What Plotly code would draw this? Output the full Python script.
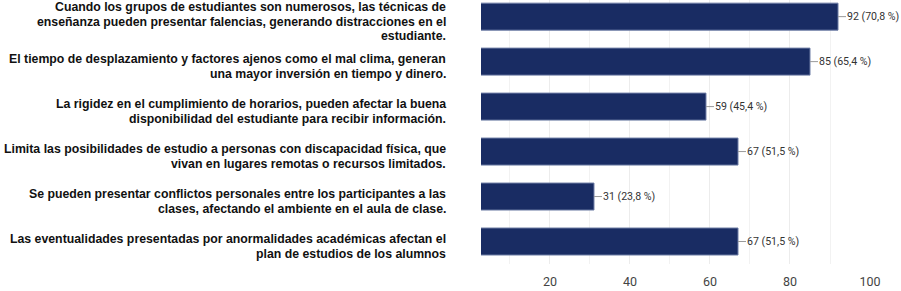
import plotly.graph_objects as go

categories = [
    ["Cuando los grupos de estudiantes son numerosos, las técnicas de",
     "enseñanza pueden presentar falencias, generando distracciones en el",
     "estudiante."],
    ["El tiempo de desplazamiento y factores ajenos como el mal clima, generan",
     "una mayor inversión en tiempo y dinero."],
    ["La rigidez en el cumplimiento de horarios, pueden afectar la buena",
     "disponibilidad del estudiante para recibir información."],
    ["Limita las posibilidades de estudio a personas con discapacidad física, que",
     "vivan en lugares remotas o recursos limitados."],
    ["Se pueden presentar conflictos personales entre los participantes a las",
     "clases, afectando el ambiente en el aula de clase."],
    ["Las eventualidades presentadas por anormalidades académicas afectan el",
     "plan de estudios de los alumnos"],
]
counts = [92, 85, 59, 67, 31, 67]
percents = ["70,8", "65,4", "45,4", "51,5", "23,8", "51,5"]
tick_values = [20, 40, 60, 80, 100]

W, H = 901, 291
L, R, T, B = 481, 31, 0, 27

NARROW = "Roboto, Liberation Sans Narrow, Arial Narrow, sans-serif"

positions = list(range(len(counts)))

fig = go.Figure()
fig.add_trace(go.Bar(
    x=counts, y=positions, orientation="h", width=0.6,
    marker=dict(color="#192c63", line=dict(color="#6a7aa3", width=1)),
    hoverinfo="skip",
))

annotations = []
for i, (c, p) in enumerate(zip(counts, percents)):
    annotations.append(dict(
        x=c, y=i, xref="x", yref="y", text=f"{c} ({p} %)",
        showarrow=True, arrowhead=0, arrowwidth=1, arrowcolor="#9a9a9a",
        ax=8, ay=0, xanchor="left", borderpad=0,
        font=dict(family=NARROW, size=10.6, color="#333333"),
    ))

line_gap = 14.5
for i, lines in enumerate(categories):
    n = len(lines)
    for k, line in enumerate(lines):
        off = 5.0 + (k - (n - 1) / 2) * line_gap
        annotations.append(dict(
            x=0, y=i, xref="paper", yref="y", text=f"<b>{line}</b>",
            showarrow=False, xanchor="right", xshift=-33, yshift=-off,
            font=dict(family="Liberation Sans", size=12.3, color="#111111"),
        ))

fig.update_layout(
    width=W, height=H,
    margin=dict(l=L, r=R, t=T, b=B, pad=0),
    paper_bgcolor="white", plot_bgcolor="white",
    showlegend=False,
    annotations=annotations,
    xaxis=dict(
        range=[2.76, 100], tickvals=tick_values, showgrid=True,
        gridcolor="#ececec", gridwidth=1, zeroline=False, showline=False,
        ticks="", ticklabelstandoff=8,
        tickfont=dict(family=NARROW, size=12.5, color="#444444"),
        minor=dict(dtick=10, tick0=0, showgrid=True, gridcolor="#f2f2f2", gridwidth=1),
        fixedrange=True,
    ),
    yaxis=dict(
        range=[5.5, -0.37], showticklabels=False, showgrid=False,
        zeroline=False, showline=False, fixedrange=True,
    ),
)

fig.write_html("out.html", config={"displayModeBar": False},
               post_script="document.body.style.margin='0';document.body.style.overflow='hidden';")
